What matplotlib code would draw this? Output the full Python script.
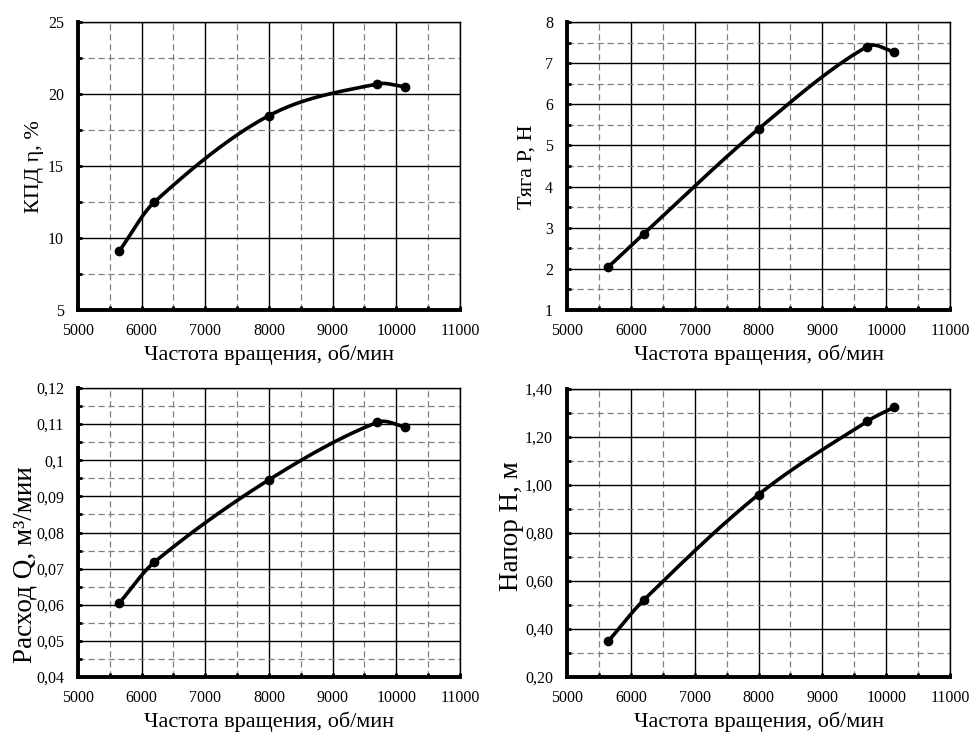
import numpy as np
import matplotlib
matplotlib.use("Agg")
import matplotlib.pyplot as plt
from matplotlib.ticker import MultipleLocator, FuncFormatter

plt.rcParams['font.family'] = ['Liberation Serif', 'DejaVu Serif']

rpm = [5650, 6200, 8000, 9700, 10130]
kpd = [9.1, 12.5, 18.5, 20.7, 20.5]
thrust = [2.05, 2.85, 5.4, 7.4, 7.27]
flow = [0.0605, 0.0718, 0.0946, 0.1105, 0.1093]
head = [0.35, 0.52, 0.96, 1.265, 1.325]

x_label = "Частота вращения, об/мин"
y_labels = ["КПД η, %", "Тяга P, Н", "Расход Q, м³/мии", "Напор H, м"]


def smooth(x, y, n=50):
    # smoothed line: cubic Bezier segments, non-uniform cardinal tangents
    x = np.asarray(x, float)
    y = np.asarray(y, float)
    P = np.column_stack([x, y])
    m = len(x)
    h = np.diff(x)
    t = np.linspace(0, 1, n)
    out = []
    for i in range(m - 1):
        p0, p3 = P[i], P[i + 1]
        if i == 0:
            c1 = p0 + (p3 - p0) / 3
        else:
            c1 = p0 + (P[i + 1] - P[i - 1]) * (h[i] / (h[i - 1] + h[i])) / 3
        if i == m - 2:
            c2 = p3 - (p3 - p0) / 3
        else:
            c2 = p3 - (P[i + 2] - P[i]) * (h[i] / (h[i] + h[i + 1])) / 3
        b = ((1 - t) ** 3)[:, None] * p0 + (3 * (1 - t) ** 2 * t)[:, None] * c1 + \
            (3 * (1 - t) * t ** 2)[:, None] * c2 + (t ** 3)[:, None] * p3
        out.append(b)
    b = np.vstack(out)
    return b[:, 0], b[:, 1]


fig = plt.figure(figsize=(9.7, 7.33), dpi=100)
W, H = 970, 733
boxes = [(78, 22, 460, 310), (567, 22, 950, 310), (78, 388, 460, 677), (567, 389, 950, 677)]
series = [kpd, thrust, flow, head]
ylims = [(5, 25, 5, 2.5), (1, 8, 1, 0.5), (0.04, 0.12, 0.01, 0.005), (0.2, 1.4, 0.2, 0.1)]
fmts = [lambda v, p: f"{v:g}",
        lambda v, p: f"{v:g}",
        lambda v, p: "0,1" if abs(v - 0.1) < 1e-9 else f"{v:.2f}".replace('.', ','),
        lambda v, p: f"{v:.2f}".replace('.', ',')]
ylab_pos = [(34, 167, 16), (527, 167, 16), (25, 565, 19.5), (512, 526, 19.5)]

for k in range(4):
    l, t, r, b = boxes[k]
    ax = fig.add_axes([l / W, 1 - b / H, (r - l) / W, (b - t) / H])
    xs, ys = smooth(rpm, series[k])
    ax.plot(xs, ys, color='black', lw=2.6, solid_capstyle='round', zorder=3)
    ax.plot(rpm, series[k], 'o', color='black', ms=6, zorder=4)
    ax.set_xlim(5000, 11000)
    y0, y1, maj, mn = ylims[k]
    ax.set_ylim(y0, y1)
    ax.xaxis.set_major_locator(MultipleLocator(1000))
    ax.xaxis.set_minor_locator(MultipleLocator(500))
    ax.yaxis.set_major_locator(MultipleLocator(maj))
    ax.yaxis.set_minor_locator(MultipleLocator(mn))
    ax.yaxis.set_major_formatter(FuncFormatter(fmts[k]))
    ax.grid(which='major', color='black', lw=1.0, ls='-')
    ax.grid(which='minor', color='#808080', lw=0.9, ls=(0, (5, 3)))
    ax.set_axisbelow(True)
    for s in ['top', 'right']:
        ax.spines[s].set_linewidth(1.0)
    for s in ['left', 'bottom']:
        ax.spines[s].set_linewidth(2.8)
    ax.tick_params(which='both', direction='in', length=3, width=2, labelsize=11.5,
                   top=False, right=False)
    ax.tick_params(axis='x', which='both', pad=9.5)
    ax.tick_params(axis='y', which='both', pad=10)
    ax.set_xlabel(x_label, fontsize=16, va='center')
    ax.xaxis.set_label_coords(0.5, -45 / (b - t))
    lx, ly, fs = ylab_pos[k]
    ax.set_ylabel(y_labels[k], fontsize=fs, va='center', ha='center')
    ax.yaxis.set_label_coords((lx - l) / (r - l), 1 - (ly - t) / (b - t))

fig.savefig("out.png", dpi=100, facecolor='white')
